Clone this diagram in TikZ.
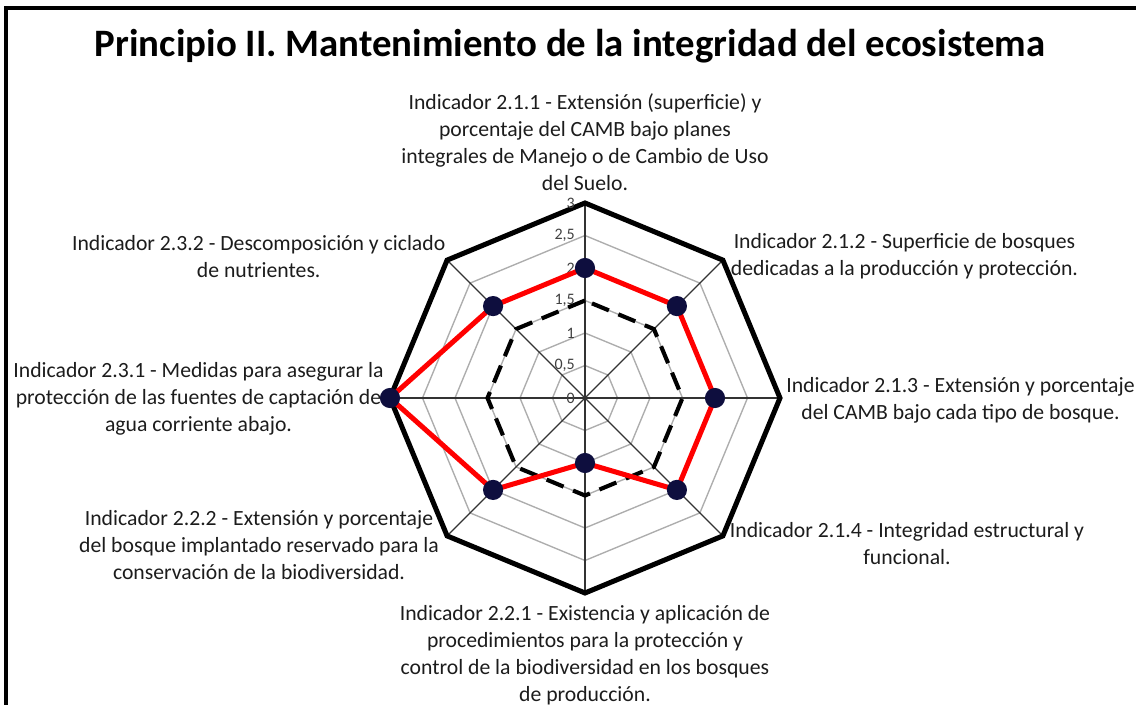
\documentclass[tikz,border=0pt]{standalone}
\usepackage{fontspec}
\setmainfont{Carlito}
\definecolor{dotblue}{RGB}{14,14,62}
\definecolor{txtgray}{RGB}{28,28,28}

\tikzset{
  lbl/.style={font=\fontsize{9.5}{11.8}\selectfont, align=center, text=txtgray, inner sep=0pt},
  tick/.style={font=\fontsize{7}{7}\selectfont, text=black!75, anchor=east, inner sep=0pt},
  pt/.style={circle, fill=dotblue, minimum size=0.31cm, inner sep=0pt}
}

\begin{document}
\begin{tikzpicture}

\useasboundingbox (-9,-4.723) rectangle (8.477,6.123);

\coordinate (O) at (0,0);
\coordinate (F1) at (-8.91,-4.8);
\coordinate (F2) at (-8.91,6.0);
\coordinate (F3) at (8.6,6.0);

\draw[black,line width=1.7pt] (F1)--(F2)--(F3);

\node[font=\fontsize{17}{20}\selectfont\bfseries] (title) at (-0.23,5.42) {Principio II. Mantenimiento de la integridad del ecosistema};

% grid
\foreach \r in {0.5,1,1.5,2,2.5}
  \draw[black!32,line width=0.6pt] (90:\r) \foreach \a in {135,180,...,405} {-- (\a:\r)} -- cycle;
\foreach \a in {0,45,...,315}
  \draw[black!80,line width=0.6pt] (O) -- (\a:3);
\draw[black,line width=2.2pt,line join=miter] (90:3) \foreach \a in {135,180,...,405} {-- (\a:3)} -- cycle;

\foreach \v/\t [count=\i] in {0/0,0.5/{0,5},1/1,1.5/{1,5},2/2,2.5/{2,5},3/3}
  \node[tick] (tk\i) at (-0.15,\v) {\t};

% dashed series
\draw[black,line width=1.8pt,dash pattern=on 8pt off 4.5pt] (90:1.5) \foreach \a in {135,180,...,405} {-- (\a:1.5)} -- cycle;

% red series
\coordinate (v1) at (90:2);
\coordinate (v2) at (45:2);
\coordinate (v3) at (0:2);
\coordinate (v4) at (-45:2);
\coordinate (v5) at (-90:1);
\coordinate (v6) at (-135:2);
\coordinate (v7) at (180:3);
\coordinate (v8) at (135:2);
\draw[red,line width=2.2pt,line join=round] (v1)--(v2)--(v3)--(v4)--(v5)--(v6)--(v7)--(v8)--cycle;
\foreach \i in {1,...,8}
  \node[pt] (p\i) at (v\i) {};

% labels
\node[lbl] (l211) at (0,3.93) {Indicador 2.1.1 - Extensión (superficie) y\\porcentaje del CAMB bajo planes\\integrales de Manejo o de Cambio de Uso\\del Suelo.};
\node[lbl] (l212) at (4.915,2.18) {Indicador 2.1.2 - Superficie de bosques\\dedicadas a la producción y protección.};
\node[lbl] (l213) at (5.777,-0.04) {Indicador 2.1.3 - Extensión y porcentaje\\del CAMB bajo cada tipo de bosque.};
\node[lbl] (l214) at (4.954,-2.246) {Indicador 2.1.4 - Integridad estructural y\\funcional.};
\node[lbl] (l221) at (0,-3.954) {Indicador 2.2.1 - Existencia y aplicación de\\procedimientos para la protección y\\control de la biodiversidad en los bosques\\de producción.};
\node[lbl] (l222) at (-5.015,-2.26) {Indicador 2.2.2 - Extensión y porcentaje\\del bosque implantado reservado para la\\conservación de la biodiversidad.};
\node[lbl] (l231) at (-5.946,-0.015) {Indicador 2.3.1 - Medidas para asegurar la\\protección de las fuentes de captación de\\agua corriente abajo.};
\node[lbl] (l232) at (-5.02,2.18) {Indicador 2.3.2 - Descomposición y ciclado\\de nutrientes.};

\end{tikzpicture}
\end{document}
